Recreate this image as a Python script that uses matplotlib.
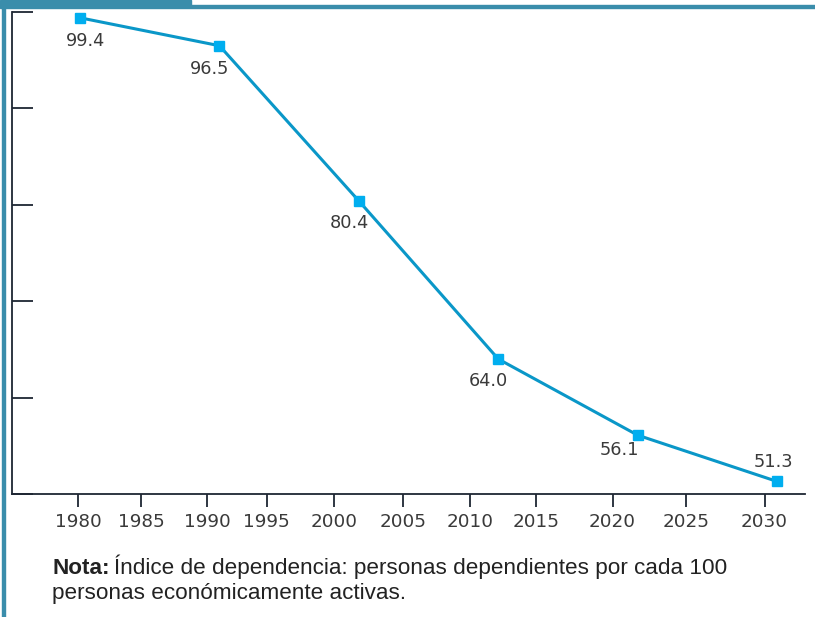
import matplotlib.pyplot as plt
from matplotlib.patches import Rectangle

plt.rcParams['font.family'] = ['DejaVu Sans']

# data
years = [1980, 1990, 2000, 2010, 2020, 2030]
values = [99.4, 96.5, 80.4, 64.0, 56.1, 51.3]
tick_labels = ['1980', '1985', '1990', '1995', '2000', '2005',
               '2010', '2015', '2020', '2025', '2030']

# tick marks on the original are not evenly spaced, positions in point-index units
tick_pos = [-0.014, 0.44, 0.91, 1.34, 1.82, 2.32, 2.80, 3.27, 3.82, 4.35, 4.91]
label_offsets = [(4, -17), (-7, -17), (-7, -16), (-7, -16), (-13, -11), (-3, 14)]

line_col = '#0a97c8'
marker_col = '#00aeef'
frame_col = '#3a8dab'
text_col = '#3a3a3a'

fig = plt.figure(figsize=(8.15, 6.17), dpi=100)
ax = fig.add_axes([12 / 815, 1 - 494 / 617, (805 - 12) / 815, (494 - 12) / 617])

x = list(range(len(years)))
ax.plot(x, values, color=line_col, lw=2.2, zorder=3)
ax.plot(x, values, ls='none', marker='s', ms=7, color=marker_col, zorder=4)

for xi, v, off in zip(x, values, label_offsets):
    ax.annotate(f'{v:.1f}', (xi, v), xytext=off, textcoords='offset points',
                ha='center', va='center', fontsize=12.8, color=text_col)

ax.set_xlim(-0.488, 5.20)
ax.set_ylim(50, 100)

ax.set_xticks(tick_pos)
ax.set_xticklabels(tick_labels, fontsize=13.2, color=text_col)
ax.set_yticks([50, 60, 70, 80, 90, 100])
ax.set_yticklabels([])

ax.tick_params(axis='x', direction='out', length=9, width=1.3, color='#1e2633', pad=5)
ax.tick_params(axis='y', direction='in', length=15, width=1.3, color='#1e2633')

for s in ['top', 'right']:
    ax.spines[s].set_visible(False)
for s in ['left', 'bottom']:
    ax.spines[s].set_color('#1e2633')
    ax.spines[s].set_linewidth(1.3)

# decorative frame
fig.patches.append(Rectangle((0, 1 - 7 / 617), 191 / 815, 7 / 617, transform=fig.transFigure,
                             color=frame_col, zorder=5))
fig.patches.append(Rectangle((0, 1 - 8 / 617), 1, 3 / 617, transform=fig.transFigure,
                             color=frame_col, zorder=5))
fig.patches.append(Rectangle((2 / 815, 0), 3 / 815, 1, transform=fig.transFigure,
                             color=frame_col, zorder=5))

# note
note_font = ['Liberation Sans', 'DejaVu Sans']
t1 = fig.text(52 / 815, 1 - 574 / 617, 'Nota:', fontsize=16.2, color='#222222',
              va='baseline', fontweight='bold', family=note_font)
fig.canvas.draw()
bb = t1.get_window_extent()
fig.text((bb.x1 + 4) / 815, 1 - 574 / 617,
         'Índice de dependencia: personas dependientes por cada 100',
         fontsize=16.2, color='#222222', va='baseline', family=note_font)
fig.text(52 / 815, 1 - 599 / 617, 'personas económicamente activas.',
         fontsize=16.2, color='#222222', va='baseline', family=note_font)

fig.savefig('out.png', dpi=100)
